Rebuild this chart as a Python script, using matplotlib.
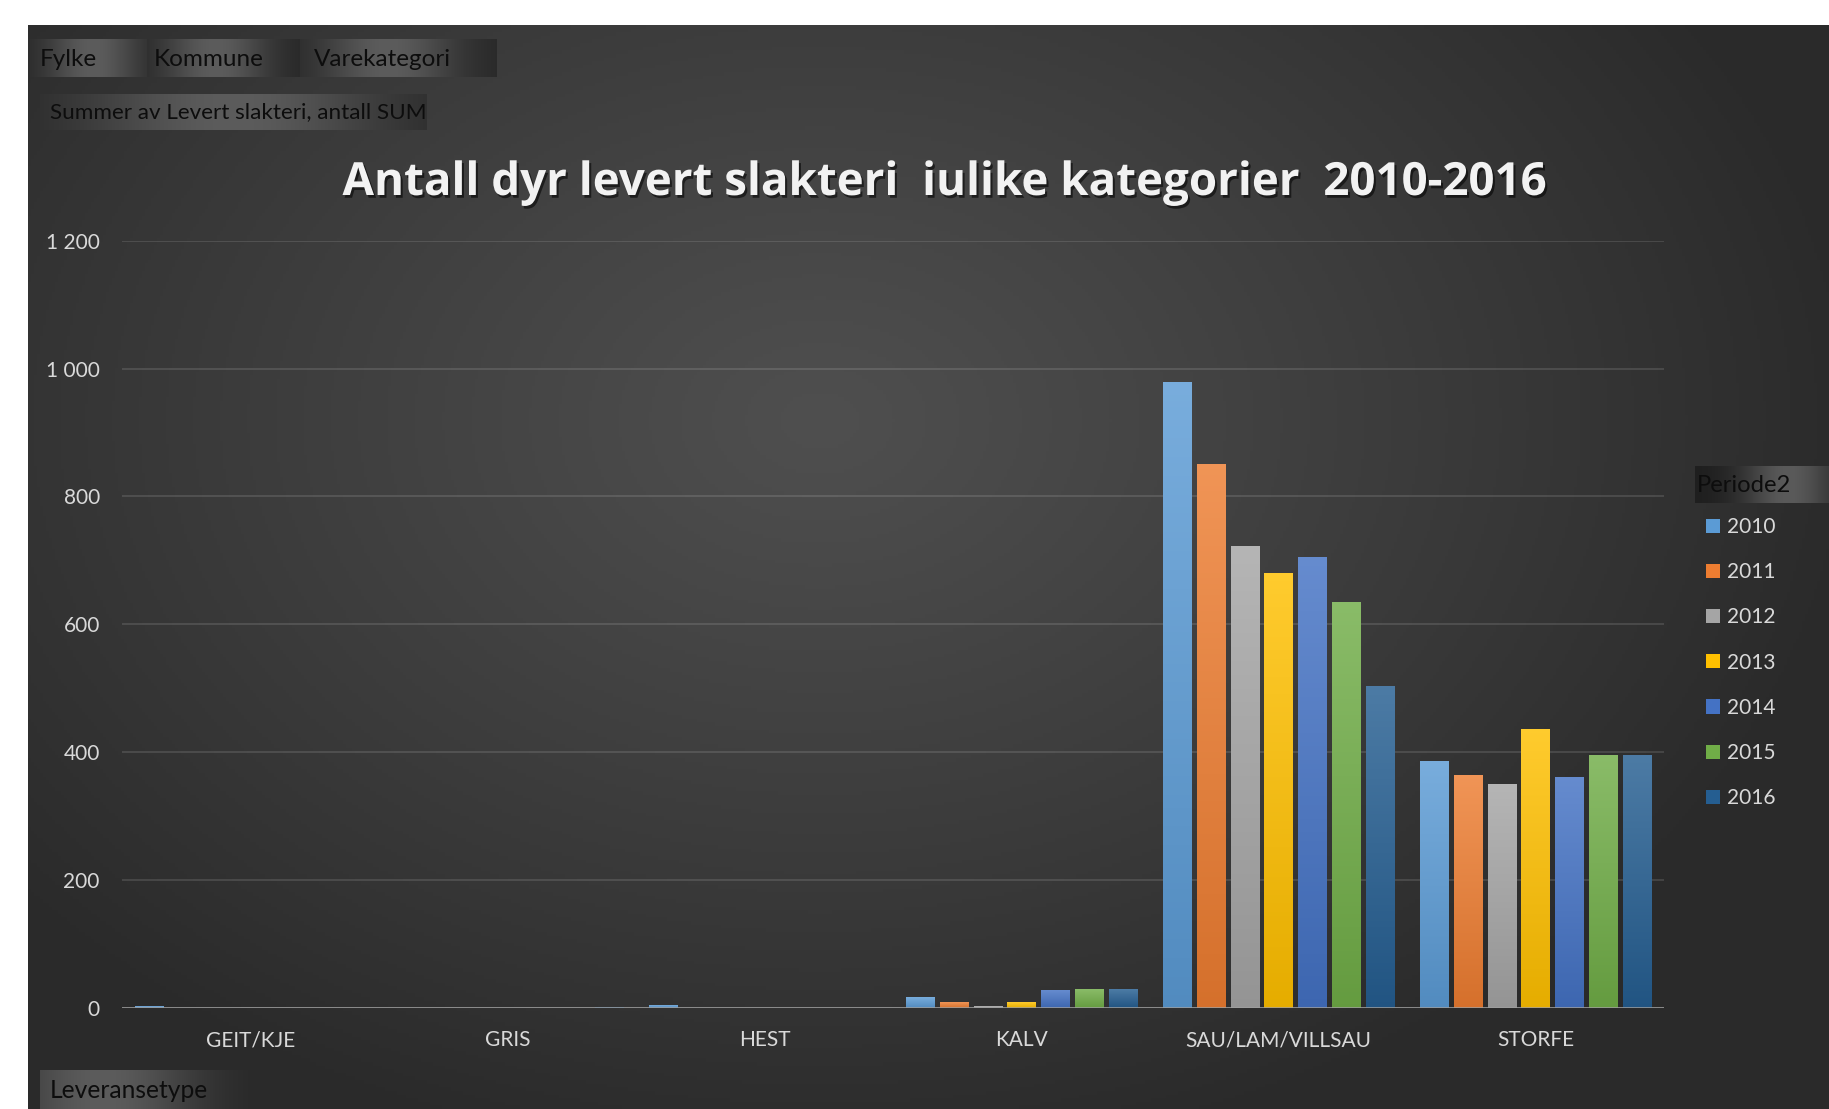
import numpy as np
import matplotlib
matplotlib.use('Agg')
import matplotlib.pyplot as plt
from matplotlib.patches import Patch
from matplotlib import patheffects as pe
from matplotlib.colors import to_rgb

# ---------------- data ----------------
categories = ["GEIT/KJE", "GRIS", "HEST", "KALV", "SAU/LAM/VILLSAU", "STORFE"]
years = ["2010", "2011", "2012", "2013", "2014", "2015", "2016"]
v2010 = [3, 0, 4, 17, 979, 387]
v2011 = [0, 0, 0, 9, 850, 364]
v2012 = [0, 0, 0, 3, 723, 351]
v2013 = [0, 0, 0, 9, 681, 437]
v2014 = [0, 0, 0, 28, 705, 362]
v2015 = [0, 0, 0, 29, 635, 396]
v2016 = [0, 2, 0, 29, 504, 395]
series = [v2010, v2011, v2012, v2013, v2014, v2015, v2016]
colors = ["#5B9BD5", "#ED7D31", "#A5A5A5", "#FFC000", "#4472C4", "#70AD47", "#255E91"]
yticks = [0, 200, 400, 600, 800, 1000, 1200]
ytick_labels = ["0", "200", "400", "600", "800", "1 000", "1 200"]
title = "Antall dyr levert slakteri  iulike kategorier  2010-2016"

FONT = "Lato"
W, H = 1829, 1109
fig = plt.figure(figsize=(W / 100, H / 100), dpi=100, facecolor="white")


def fbox(x0, y0, x1, y1):
    return [x0 / W, 1 - y1 / H, (x1 - x0) / W, (y1 - y0) / H]


# ---------------- background panel ----------------
bg = fig.add_axes(fbox(28, 25, W, H))
bg.set_axis_off()
ny, nx = 300, 600
yy, xx = np.mgrid[0:ny, 0:nx]
px = 28 + xx / (nx - 1) * (W - 28)
py = 25 + yy / (ny - 1) * (H - 25)
r = np.sqrt(((px - 820) / 1050) ** 2 + ((py - 420) / 760) ** 2)
t = np.clip(r, 0, 1) ** 1.1
c_in = np.array(to_rgb("#4f4f4f"))
c_out = np.array(to_rgb("#2a2a2a"))
img = c_in + (c_out - c_in) * t[..., None]
bg.imshow(img, aspect="auto", extent=[0, 1, 0, 1], origin="upper")
bg.set_xlim(0, 1)
bg.set_ylim(0, 1)


def gradient_box(x0, y0, x1, y1, peak=0.45, width=0.32, dark="#262626", light="#5c5c5c"):
    a = fig.add_axes(fbox(x0, y0, x1, y1))
    a.set_axis_off()
    tt = np.linspace(0, 1, 300)
    k = np.exp(-((tt - peak) / width) ** 2)
    d = np.array(to_rgb(dark))
    l = np.array(to_rgb(light))
    row = d + (l - d) * k[:, None]
    a.imshow(row[None, :, :], aspect="auto", extent=[0, 1, 0, 1])
    a.set_xlim(0, 1)
    a.set_ylim(0, 1)
    return a


# field buttons
gradient_box(28, 39, 147, 77, peak=0.55, width=0.4)
gradient_box(147, 39, 300, 77, peak=0.45, width=0.35)
gradient_box(300, 39, 497, 77, peak=0.45, width=0.35)
for txt, x in [("Fylke", 40), ("Kommune", 154), ("Varekategori", 314)]:
    fig.text(x / W, 1 - 59 / H, txt, ha="left", va="center", fontsize=17.5,
             family=FONT, color="#0d0d0d")
gradient_box(40, 94, 427, 130, peak=0.5, width=0.4)
fig.text(50 / W, 1 - 112 / H, "Summer av Levert slakteri, antall SUM", ha="left", va="center",
         fontsize=16.2, family=FONT, color="#0d0d0d")
gradient_box(40, 1070, 250, H, peak=0.3, width=0.45)
fig.text(50 / W, 1 - 1091 / H, "Leveransetype", ha="left", va="center",
         fontsize=17.7, family=FONT, color="#0d0d0d")
gradient_box(1695, 466, W, 503, peak=0.7, width=0.35, dark="#1e1e1e", light="#5a5a5a")
fig.text(1697 / W, 1 - 485 / H, "Periode2", ha="left", va="center",
         fontsize=17.2, family=FONT, color="#0d0d0d")

# ---------------- title ----------------
fig.text(944 / W, 1 - 195 / H, title, ha="center", va="baseline", fontsize=32.9,
         fontweight="bold", family="Open Sans", color="#f2f2f2",
         path_effects=[pe.withSimplePatchShadow(offset=(1.5, -2), shadow_rgbFace="black", alpha=0.55)])

# ---------------- main axes ----------------
ax = fig.add_axes(fbox(122, 240.7, 1664, 1008))
ax.patch.set_alpha(0)
x = np.arange(len(categories))
bw = 0.109
pitch = 0.1316


def mix(c, target, f):
    c = np.array(to_rgb(c))
    return c + (np.array(target) - c) * f


handles = []
for i, (yr, vals, col) in enumerate(zip(years, series, colors)):
    bars = ax.bar(x + (i - 3) * pitch, vals, width=bw, color=col, zorder=3, linewidth=0)
    top = mix(col, (1, 1, 1), 0.18)
    bot = mix(col, (0, 0, 0), 0.1)
    grad = np.linspace(0, 1, 100)[:, None, None]
    gimg = top + (bot - top) * grad
    for b in bars:
        h = b.get_height()
        if h <= 0:
            continue
        im = ax.imshow(gimg, aspect="auto", origin="upper",
                       extent=[b.get_x(), b.get_x() + b.get_width(), 0, h], zorder=3.5)
        im.set_clip_path(b)
    handles.append(Patch(facecolor=col, edgecolor="none", label=yr))

ax.set_xlim(-0.5, 5.5)
ax.set_ylim(0, 1200)
ax.set_aspect("auto")
ax.set_yticks(yticks)
ax.set_yticklabels(ytick_labels)
ax.set_xticks(x)
ax.set_xticklabels(categories)
for s in ax.spines.values():
    s.set_visible(False)
ax.yaxis.grid(True, color="white", alpha=0.13, linewidth=1.3)
ax.set_axisbelow(True)
ax.axhline(0, color="#a0a0a0", linewidth=1.8, zorder=5)
ax.tick_params(axis="both", length=0, colors="#d9d9d9", labelsize=15)
ax.tick_params(axis="x", pad=16)
ax.tick_params(axis="y", pad=16)
for lab in ax.get_xticklabels() + ax.get_yticklabels():
    lab.set_family(FONT)

leg = fig.legend(handles=handles, loc="upper left", bbox_to_anchor=(1706 / W, 1 - 517 / H),
                 frameon=False, borderpad=0, borderaxespad=0, handlelength=0.68,
                 handleheight=0.68, handletextpad=0.33, labelspacing=1.21,
                 prop={"family": FONT, "size": 15})
for txt in leg.get_texts():
    txt.set_color("#d9d9d9")

fig.savefig("out.png", dpi=100, facecolor="white")
